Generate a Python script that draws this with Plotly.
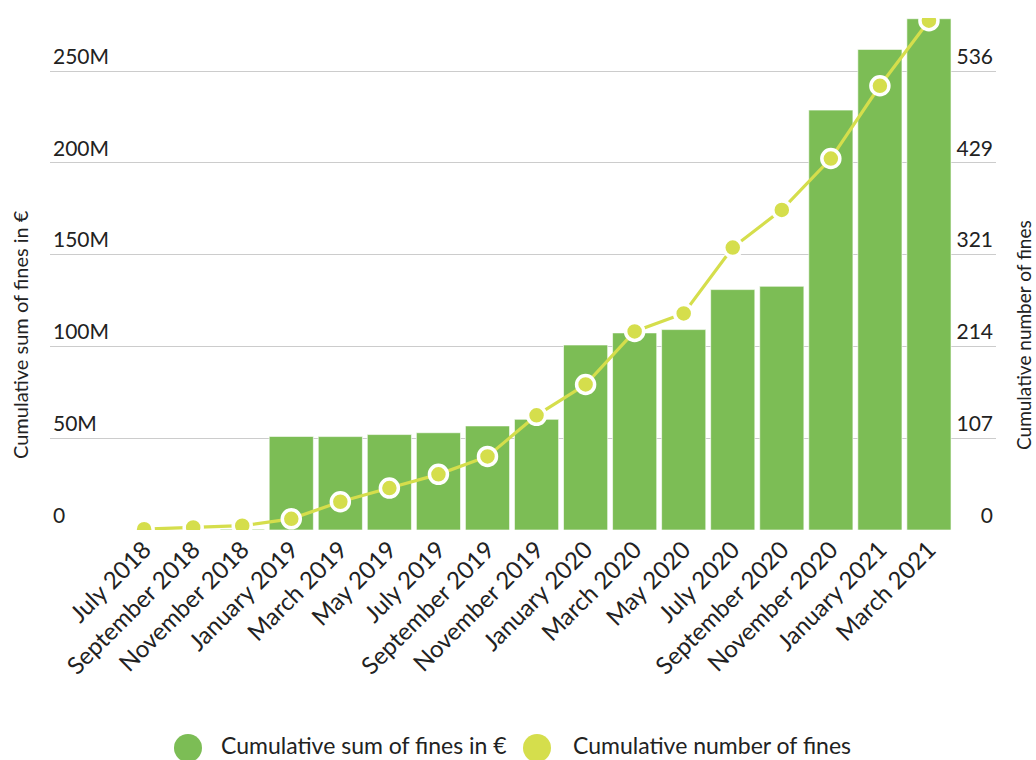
import plotly.graph_objects as go

months = ["July 2018", "September 2018", "November 2018", "January 2019", "March 2019",
          "May 2019", "July 2019", "September 2019", "November 2019", "January 2020",
          "March 2020", "May 2020", "July 2020", "September 2020", "November 2020",
          "January 2021", "March 2021"]
sum_fines_m = [0.0, 0.02, 0.45, 51.0, 50.9, 52.0, 53.0, 56.7, 60.3, 100.8, 107.4,
               109.2, 131.0, 132.8, 228.8, 261.9, 278.6]
num_fines = [1, 3, 5, 13, 33, 49, 65, 86, 134, 170, 232, 253, 330, 374, 434, 519, 595]

left_tickvals = [0, 50e6, 100e6, 150e6, 200e6, 250e6]
left_ticktext = ["0", "50M", "100M", "150M", "200M", "250M"]
right_ticktext = ["0", "107", "214", "321", "429", "536"]

sum_fines = [v * 1e6 for v in sum_fines_m]

GREEN = "#7cbd55"
YELLOW = "#d5de4c"
TXT = "#222222"
FONT = "Lato"

LEFT_MAX = 279e6
RIGHT_TOP_TICK = 536
RIGHT_MAX = LEFT_MAX / 250e6 * RIGHT_TOP_TICK
right_tickvals = [RIGHT_TOP_TICK * k / 5 for k in range(6)]

fig = go.Figure()
fig.add_trace(go.Bar(
    x=months, y=sum_fines, name="Cumulative sum of fines in €",
    marker=dict(color=GREEN, line=dict(color="rgba(255,255,255,0.6)", width=1)),
    yaxis="y", showlegend=False,
))
fig.add_trace(go.Scatter(
    x=months, y=num_fines, name="Cumulative number of fines",
    mode="lines+markers", yaxis="y2", showlegend=False,
    line=dict(color=YELLOW, width=3.2),
    marker=dict(color=YELLOW, size=18, line=dict(color="white", width=3.5)),
))

W, H = 1036, 760
ML, MR, MT, MB = 50, 40, 18, 230
pw, ph = W - ML - MR, H - MT - MB

def px_x(px):
    return (px - ML) / pw

def px_y(py):
    return (H - MB - py) / ph

fig.update_layout(
    width=W, height=H,
    margin=dict(l=ML, r=MR, t=MT, b=MB),
    paper_bgcolor="white", plot_bgcolor="white",
    font=dict(family=FONT, color=TXT, size=21),
    bargap=0.1,
    showlegend=False,
    xaxis=dict(
        type="category", range=[-1.919, 17.367],
        tickangle=-45, tickfont=dict(size=24, color=TXT),
        showgrid=False, zeroline=False, showline=False, ticks="",
    ),
    yaxis=dict(
        range=[0, LEFT_MAX], tickvals=left_tickvals, ticktext=left_ticktext,
        ticklabelposition="inside top", tickfont=dict(size=21, color=TXT),
        showgrid=True, gridcolor="#cccccc", gridwidth=1.3,
        zeroline=False, showline=False, ticks="",
    ),
    yaxis2=dict(
        range=[0, RIGHT_MAX], tickvals=right_tickvals, ticktext=right_ticktext,
        overlaying="y", side="right",
        ticklabelposition="inside top", tickfont=dict(size=21, color=TXT),
        showgrid=False, zeroline=False, showline=False, ticks="",
    ),
)

# axis titles
fig.add_annotation(text="Cumulative sum of fines in €", xref="paper", yref="paper",
                   x=px_x(20), y=px_y(335), textangle=-90, showarrow=False,
                   font=dict(size=20, color=TXT), xanchor="center", yanchor="middle")
fig.add_annotation(text="Cumulative number of fines", xref="paper", yref="paper",
                   x=px_x(1023), y=px_y(335), textangle=-90, showarrow=False,
                   font=dict(size=19, color=TXT), xanchor="center", yanchor="middle")

# manual legend
legend_items = [(188, 219, GREEN, "Cumulative sum of fines in €"),
                (537, 571, YELLOW, "Cumulative number of fines")]
for cx, tx, col, label in legend_items:
    fig.add_shape(type="circle", xref="paper", yref="paper",
                  xsizemode="pixel", ysizemode="pixel",
                  xanchor=px_x(cx), yanchor=px_y(748),
                  x0=-14, x1=14, y0=-14, y1=14,
                  fillcolor=col, line=dict(width=0))
    fig.add_annotation(text=label, xref="paper", yref="paper",
                       x=px_x(tx), y=px_y(745), showarrow=False,
                       xanchor="left", yanchor="middle",
                       font=dict(size=23, color=TXT))

fig.write_html("out.html")
